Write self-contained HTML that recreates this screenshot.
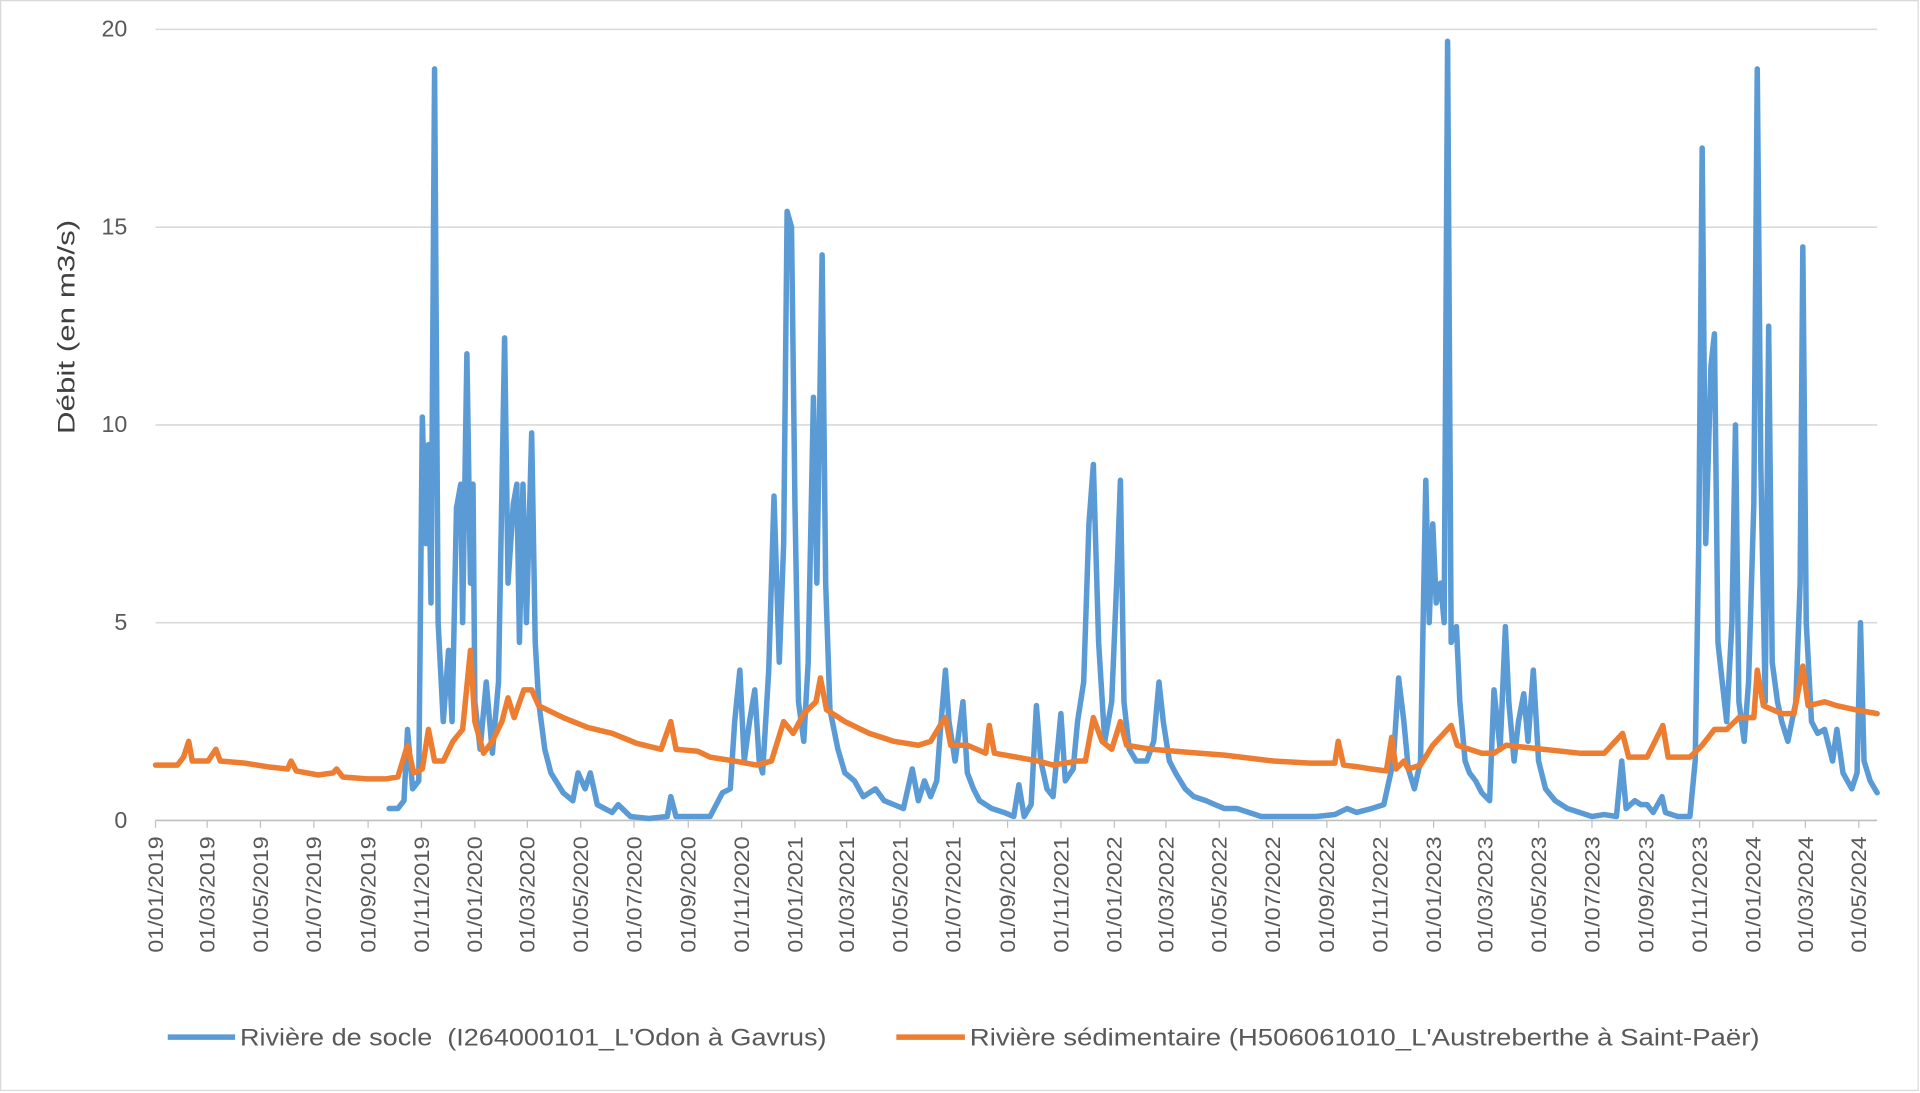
<!DOCTYPE html>
<html><head><meta charset="utf-8"><style>
html,body{margin:0;padding:0;background:#fff;}
svg{display:block;font-family:"Liberation Sans",Arial,sans-serif;}
</style></head><body>
<svg id="chart" width="1920" height="1093" viewBox="0 0 1568 892.6" preserveAspectRatio="none" xmlns="http://www.w3.org/2000/svg">
<rect x="0.5" y="0.5" width="1566" height="890" fill="#fff" stroke="#d9d9d9"/>
<g id="grid"></g>
<g id="yticks"></g>
<g id="xticks"></g>
<text transform="translate(61,267) rotate(-90)" text-anchor="middle" font-size="20" fill="#404040" textLength="175" lengthAdjust="spacingAndGlyphs">Débit (en m3/s)</text>
<g id="series"></g>
<g>
<line x1="137" y1="847" x2="192" y2="847" stroke="#5b9bd5" stroke-width="4.5"/>
<text x="196" y="854" font-size="20" fill="#595959" textLength="479" lengthAdjust="spacingAndGlyphs" xml:space="preserve">Rivière de socle  (I264000101_L'Odon à Gavrus)</text>
<line x1="732" y1="847" x2="788" y2="847" stroke="#ed7d31" stroke-width="4.5"/>
<text x="792" y="854" font-size="20" fill="#595959" textLength="645" lengthAdjust="spacingAndGlyphs">Rivière sédimentaire (H506061010_L'Austreberthe à Saint-Paër)</text>
</g>
</svg>
<script>
const yTicks=[0,5,10,15,20];
const blueDays=[267,277,284,288,294,301,305,309,312,315,319,323,329,335,339,344,349,351,356,360,363,365,371,378,385,392,399,403,409,413,416,420,424,430,434,438,445,452,466,477,483,491,497,505,522,529,543,564,585,589,595,613,634,648,657,662,668,673,679,685,690,694,701,707,713,718,722,727,731,735,741,746,752,756,762,766,771,780,788,799,809,823,833,844,855,865,872,879,886,893,897,903,907,914,923,928,935,942,956,970,981,987,993,1001,1007,1012,1019,1026,1035,1040,1049,1054,1061,1067,1072,1078,1085,1093,1099,1103,1107,1113,1121,1133,1141,1147,1152,1159,1166,1177,1187,1201,1211,1222,1236,1250,1264,1285,1306,1327,1348,1362,1373,1390,1404,1415,1421,1427,1432,1439,1446,1452,1456,1460,1464,1469,1473,1477,1481,1487,1491,1497,1502,1509,1516,1525,1530,1537,1543,1547,1553,1558,1564,1569,1575,1581,1589,1600,1614,1628,1642,1656,1670,1676,1681,1691,1698,1705,1712,1722,1726,1740,1754,1760,1764,1768,1772,1778,1782,1786,1791,1796,1802,1806,1810,1816,1821,1827,1831,1835,1840,1844,1848,1854,1859,1866,1875,1880,1883,1887,1893,1900,1908,1917,1922,1929,1939,1945,1949,1953,1960,1968];
const blueVals=[0.3,0.3,0.5,2.3,0.8,1.0,10.2,7,9.5,5.5,19,5,2.5,4.3,2.5,7.9,8.5,5,11.8,6,8.5,3,1.8,3.5,1.7,3.5,12.2,6,8,8.5,4.5,8.5,5,9.8,4.5,3,1.8,1.2,0.7,0.5,1.2,0.8,1.2,0.4,0.2,0.4,0.1,0.05,0.1,0.6,0.1,0.1,0.1,0.7,0.8,2.5,3.8,1.5,2.5,3.3,1.5,1.2,3.8,8.2,4,7,15.4,15,8,3,2,4,10.7,6,14.3,6,2.8,1.8,1.2,1.0,0.6,0.8,0.5,0.4,0.3,1.3,0.5,1,0.6,1,2.2,3.8,2.5,1.5,3.0,1.2,0.8,0.5,0.3,0.2,0.1,0.9,0.1,0.4,2.9,1.5,0.8,0.6,2.7,1.0,1.3,2.5,3.5,7.5,9.0,4.5,2,3,6.2,8.6,3,1.8,1.5,1.5,2.0,3.5,2.5,1.5,1.2,0.8,0.6,0.5,0.4,0.3,0.3,0.2,0.1,0.1,0.1,0.1,0.15,0.3,0.2,0.3,0.4,1.5,3.6,2.5,1.3,0.8,1.5,8.6,5,7.5,5.5,6,5,19.7,4.5,4.9,3,1.5,1.2,1.0,0.7,0.5,3.3,1.8,4.9,3,1.5,2.5,3.2,2,3.8,1.5,0.8,0.5,0.3,0.2,0.1,0.15,0.1,1.5,0.3,0.5,0.4,0.4,0.2,0.6,0.2,0.1,0.1,1.5,7,17,7,11.5,12.3,4.5,3.5,2.5,5,10,3,2,3.5,8,19,9,3,12.5,4,3,2.5,2,3,6,14.5,5,2.5,2.2,2.3,1.5,2.3,1.2,0.8,1.2,5.0,1.5,1.0,0.7];
const orangeDays=[0,25,32,38,42,60,69,74,102,130,151,155,161,186,203,207,214,242,263,277,288,295,305,312,319,329,340,351,360,365,375,385,396,403,410,421,430,438,466,494,522,550,578,589,595,620,634,662,687,704,718,729,741,755,760,767,788,816,844,872,886,897,903,909,928,949,953,959,984,1009,1026,1054,1063,1072,1082,1093,1103,1110,1138,1166,1194,1222,1278,1320,1348,1352,1358,1376,1390,1407,1413,1418,1427,1432,1446,1460,1481,1488,1516,1530,1544,1586,1628,1656,1677,1684,1705,1723,1729,1754,1768,1775,1782,1796,1810,1827,1831,1838,1859,1873,1883,1889,1908,1922,1943,1968];
const orangeVals=[1.4,1.4,1.6,2.0,1.5,1.5,1.8,1.5,1.45,1.35,1.3,1.5,1.25,1.15,1.2,1.3,1.1,1.05,1.05,1.1,1.9,1.2,1.3,2.3,1.5,1.5,2.0,2.3,4.3,2.5,1.7,2.0,2.5,3.1,2.6,3.3,3.3,2.9,2.6,2.35,2.2,1.95,1.8,2.5,1.8,1.75,1.6,1.5,1.4,1.5,2.5,2.2,2.7,3.0,3.6,2.8,2.5,2.2,2.0,1.9,2.0,2.4,2.6,1.9,1.9,1.7,2.4,1.7,1.6,1.5,1.4,1.5,1.5,2.6,2.0,1.8,2.5,1.9,1.8,1.75,1.7,1.65,1.5,1.45,1.45,2.0,1.4,1.35,1.3,1.25,2.1,1.3,1.5,1.3,1.4,1.9,2.4,1.9,1.7,1.7,1.9,1.8,1.7,1.7,2.2,1.6,1.6,2.4,1.6,1.6,1.9,2.1,2.3,2.3,2.6,2.6,3.8,2.9,2.7,2.7,3.9,2.9,3.0,2.9,2.8,2.7];
const dayMax=1968;
const NS="http://www.w3.org/2000/svg";
const X0=127,X1=1533,Y0=670,Y1=24;
function xs(d){return X0+(X1-X0)*d/dayMax;}
function ys(v){return Y0-(Y0-Y1)*v/20;}
const grid=document.getElementById('grid'),yt=document.getElementById('yticks'),xt=document.getElementById('xticks'),ser=document.getElementById('series');
yTicks.forEach(v=>{
 const l=document.createElementNS(NS,'line');
 
 
 l.setAttribute('x1',X0);l.setAttribute('x2',X1);l.setAttribute('y1',ys(v));l.setAttribute('y2',ys(v));
 l.setAttribute('stroke',v===0?'#bfbfbf':'#d9d9d9');l.setAttribute('stroke-width','1.3');
 grid.appendChild(l);
 const t=document.createElementNS(NS,'text');
 
 
 t.setAttribute('x',104);t.setAttribute('y',ys(v)+6);t.setAttribute('text-anchor','end');
 t.setAttribute('font-size','19');t.setAttribute('fill','#595959');t.textContent=v;
 yt.appendChild(t);
});
const start=Date.UTC(2019,0,1);
for(let i=0;i<33;i++){
 const yr=2019+Math.floor(i/6),mo=(i%6)*2;
 const d=(Date.UTC(yr,mo,1)-start)/86400000;
 const x=xs(d);
 const tk=document.createElementNS(NS,'line');
 
 
 tk.setAttribute('x1',x);tk.setAttribute('x2',x);tk.setAttribute('y1',Y0);tk.setAttribute('y2',Y0+6);
 tk.setAttribute('stroke','#bfbfbf');xt.appendChild(tk);
 const t=document.createElementNS(NS,'text');
 
 
 t.setAttribute('transform','translate('+(x+6)+',683) rotate(-90)');
 t.setAttribute('text-anchor','end');t.setAttribute('font-size','17');t.setAttribute('fill','#595959');
 t.setAttribute('textLength','95');t.setAttribute('lengthAdjust','spacingAndGlyphs');
 t.textContent='01/'+String(mo+1).padStart(2,'0')+'/'+yr;
 xt.appendChild(t);
}
function line(days,vals,color,name){
 const p=document.createElementNS(NS,'polyline');
 
 
 p.setAttribute('points',days.map((d,i)=>xs(d).toFixed(1)+','+ys(vals[i]).toFixed(1)).join(' '));
 p.setAttribute('fill','none');p.setAttribute('stroke',color);p.setAttribute('stroke-width','4.5');
 p.setAttribute('stroke-linejoin','round');p.setAttribute('stroke-linecap','round');
 ser.appendChild(p);
}
line(blueDays,blueVals,'#5b9bd5','series-socle-line');
line(orangeDays,orangeVals,'#ed7d31','series-sedimentaire-line');
</script>
</body></html>
